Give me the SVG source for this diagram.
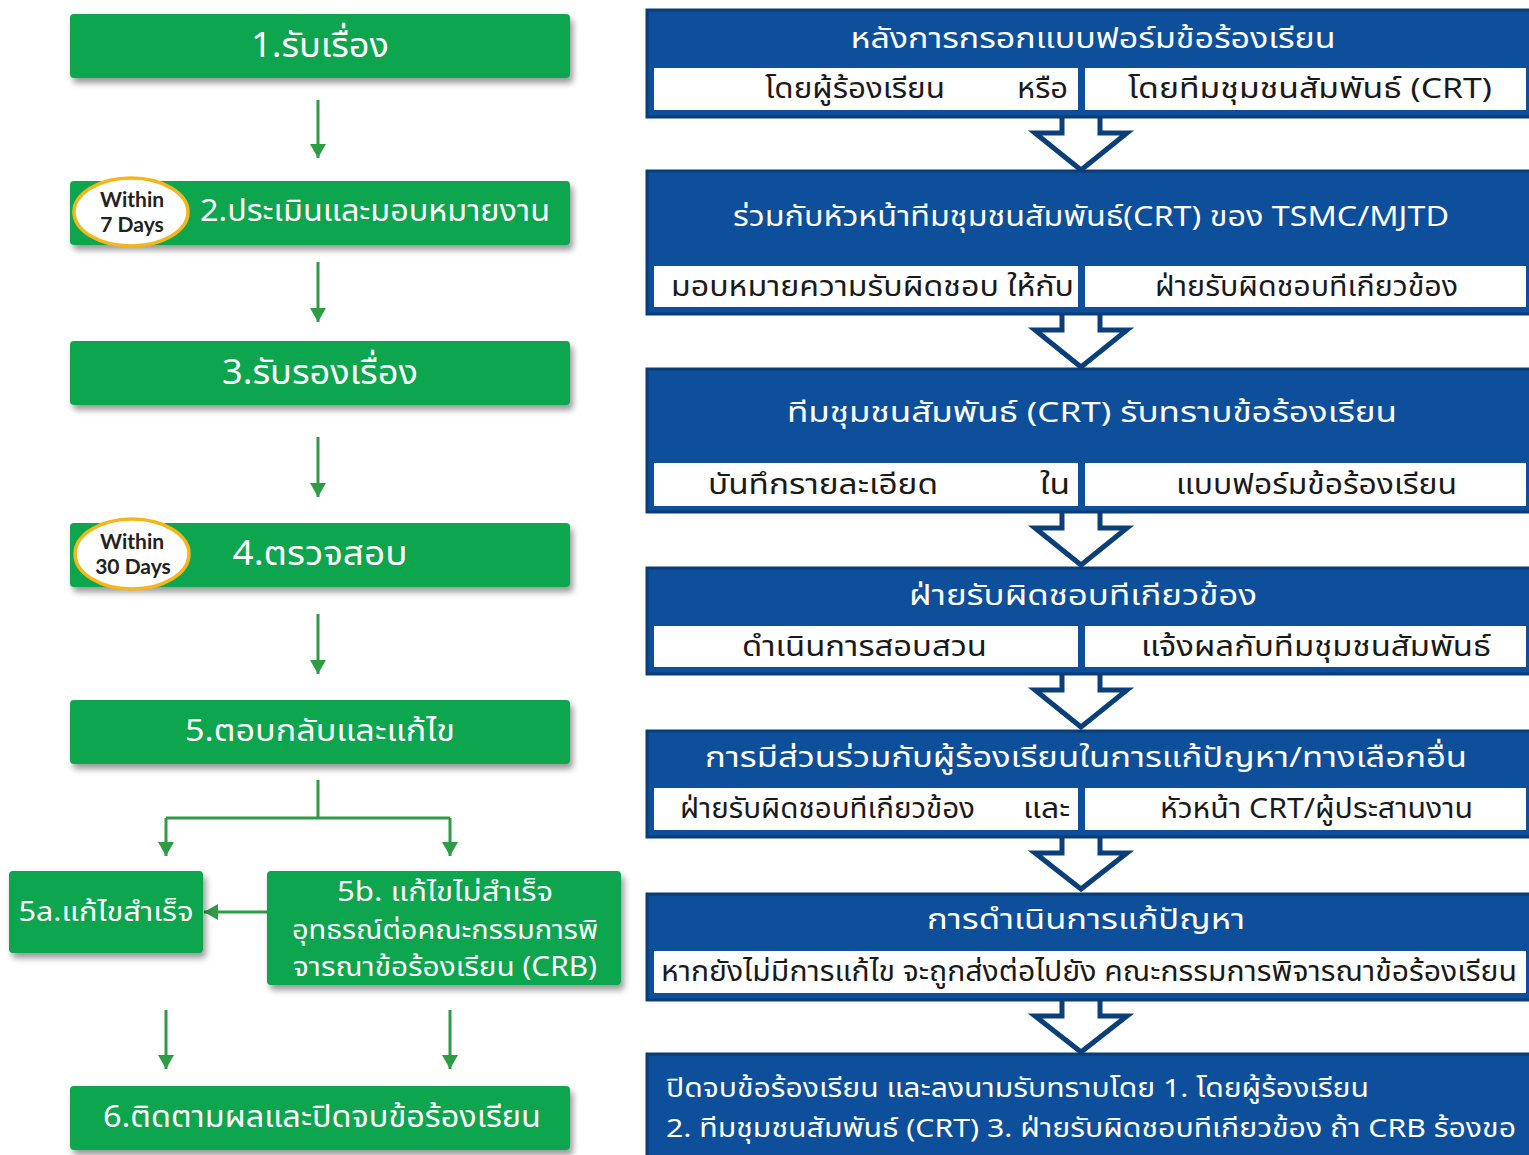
<svg xmlns="http://www.w3.org/2000/svg" width="1529" height="1155" viewBox="0 0 1529 1155">
<style>
.g{fill:#0BA54E}
.gt{fill:#fff;font-family:"Noto Sans Thai","Noto Sans",sans-serif;dominant-baseline:central;text-anchor:middle}
.conn{stroke:#2E9B45;stroke-width:3;fill:none}
.badge{fill:#fff;stroke:#F4B619;stroke-width:3.5}
.bt{font-family:Lato,"Open Sans",sans-serif;font-weight:bold;font-size:21px;fill:#222;text-anchor:middle}
.bb{fill:#0D4F9B;stroke:#0A3D75;stroke-width:3}
.wc{fill:#fff}
.ht{fill:#fff;font-family:"Noto Sans Thai","Noto Sans",sans-serif;font-size:28px;dominant-baseline:central;text-anchor:middle}
.st{fill:#1a1a1a;font-family:"Noto Sans Thai","Noto Sans",sans-serif;font-size:28px;dominant-baseline:central}
.ha{fill:#fff;stroke:#0B3F7A;stroke-width:5;stroke-linejoin:miter}
</style>
<defs>
<filter id="sh" x="-5%" y="-20%" width="115%" height="150%">
<feDropShadow dx="3" dy="5" stdDeviation="3" flood-color="#000" flood-opacity="0.4"/>
</filter>
<marker id="ah" markerUnits="userSpaceOnUse" markerWidth="20" markerHeight="16" viewBox="0 0 20 16" refX="18" refY="8" orient="auto">
<path d="M4,0 L18,8 L4,16 Z" fill="#2E9B45"/>
</marker>
</defs>
<rect width="1529" height="1155" fill="#fff"/>

<g id="connectors">
<line class="conn" x1="318" y1="100" x2="318" y2="158" marker-end="url(#ah)"/>
<line class="conn" x1="318" y1="262" x2="318" y2="322" marker-end="url(#ah)"/>
<line class="conn" x1="318" y1="437" x2="318" y2="497" marker-end="url(#ah)"/>
<line class="conn" x1="318" y1="614" x2="318" y2="674" marker-end="url(#ah)"/>
<path class="conn" d="M318,780 V818 M166,818 H450"/>
<line class="conn" x1="166" y1="818" x2="166" y2="856" marker-end="url(#ah)"/>
<line class="conn" x1="450" y1="818" x2="450" y2="856" marker-end="url(#ah)"/>
<line class="conn" x1="267" y1="912" x2="204" y2="912" marker-end="url(#ah)"/>
<line class="conn" x1="166" y1="1010" x2="166" y2="1069" marker-end="url(#ah)"/>
<line class="conn" x1="450" y1="1010" x2="450" y2="1069" marker-end="url(#ah)"/>
<path class="ha" d="M1062,115 V133 H1035 L1081,170 L1127,133 H1100 V115 Z"/>
<path class="ha" d="M1062,312 V330 H1035 L1081,367 L1127,330 H1100 V312 Z"/>
<path class="ha" d="M1062,510 V528 H1035 L1081,565 L1127,528 H1100 V510 Z"/>
<path class="ha" d="M1062,672 V690 H1035 L1081,727 L1127,690 H1100 V672 Z"/>
<path class="ha" d="M1062,835 V853 H1035 L1081,889 L1127,853 H1100 V835 Z"/>
<path class="ha" d="M1062,998 V1016 H1035 L1081,1052 L1127,1016 H1100 V998 Z"/>
</g>

<g id="step1"><rect class="g" x="70" y="14" width="500" height="64" rx="4" filter="url(#sh)"/>
<text class="gt" x="320" y="46" font-size="34" textLength="138" lengthAdjust="spacingAndGlyphs">1.รับเรื่อง</text></g>

<g id="step2"><rect class="g" x="70" y="181" width="500" height="64" rx="4" filter="url(#sh)"/>
<ellipse class="badge" cx="131" cy="212" rx="57" ry="34"/>
<text class="bt" x="132" y="207">Within</text><text class="bt" x="132" y="232">7 Days</text>
<text class="gt" x="375" y="212" font-size="30" textLength="350" lengthAdjust="spacingAndGlyphs">2.ประเมินและมอบหมายงาน</text></g>

<g id="step3"><rect class="g" x="70" y="341" width="500" height="64" rx="4" filter="url(#sh)"/>
<text class="gt" x="320" y="373" font-size="34" textLength="196" lengthAdjust="spacingAndGlyphs">3.รับรองเรื่อง</text></g>

<g id="step4"><rect class="g" x="70" y="523" width="500" height="64" rx="4" filter="url(#sh)"/>
<ellipse class="badge" cx="132" cy="554" rx="57" ry="35"/>
<text class="bt" x="132" y="549">Within</text><text class="bt" x="133" y="574">30 Days</text>
<text class="gt" x="320" y="554" font-size="34" textLength="175" lengthAdjust="spacingAndGlyphs">4.ตรวจสอบ</text></g>

<g id="step5"><rect class="g" x="70" y="700" width="500" height="64" rx="4" filter="url(#sh)"/>
<text class="gt" x="320" y="732" font-size="30" textLength="270" lengthAdjust="spacingAndGlyphs">5.ตอบกลับและแก้ไข</text></g>

<g id="step5a"><rect class="g" x="9" y="871" width="194" height="82" rx="4" filter="url(#sh)"/>
<text class="gt" x="106" y="912" font-size="27" textLength="175" lengthAdjust="spacingAndGlyphs">5a.แก้ไขสำเร็จ</text></g>

<g id="step5b"><rect class="g" x="267" y="871" width="354" height="114" rx="4" filter="url(#sh)"/>
<text class="gt" x="445" y="892" font-size="27" textLength="216" lengthAdjust="spacingAndGlyphs">5b. แก้ไขไม่สำเร็จ</text>
<text class="gt" x="445" y="930" font-size="27" textLength="306" lengthAdjust="spacingAndGlyphs">อุทธรณ์ต่อคณะกรรมการพิ</text>
<text class="gt" x="445" y="967" font-size="27" textLength="304" lengthAdjust="spacingAndGlyphs">จารณาข้อร้องเรียน (CRB)</text></g>

<g id="step6"><rect class="g" x="70" y="1086" width="500" height="64" rx="4" filter="url(#sh)"/>
<text class="gt" x="322" y="1118" font-size="30" textLength="438" lengthAdjust="spacingAndGlyphs">6.ติดตามผลและปิดจบข้อร้องเรียน</text></g>

<g id="r1"><rect class="bb" x="647" y="10" width="884" height="107"/>
<rect class="wc" x="654" y="68" width="424" height="42"/><rect class="wc" x="1085" y="68" width="441" height="42"/>
<text class="ht" x="1093" y="39" textLength="485" lengthAdjust="spacingAndGlyphs">หลังการกรอกแบบฟอร์มข้อร้องเรียน</text>
<text class="st" x="765" y="89" textLength="180" lengthAdjust="spacingAndGlyphs">โดยผู้ร้องเรียน</text>
<text class="st" x="1017" y="89" textLength="51" lengthAdjust="spacingAndGlyphs">หรือ</text>
<text class="st" x="1128" y="89" textLength="364" lengthAdjust="spacingAndGlyphs">โดยทีมชุมชนสัมพันธ์ (CRT)</text></g>

<g id="r2"><rect class="bb" x="647" y="171" width="884" height="143"/>
<rect class="wc" x="654" y="266" width="424" height="41"/><rect class="wc" x="1085" y="266" width="441" height="41"/>
<text class="ht" x="1091" y="217" textLength="716" lengthAdjust="spacingAndGlyphs">ร่วมกับหัวหน้าทีมชุมชนสัมพันธ์(CRT) ของ TSMC/MJTD</text>
<text class="st" x="671" y="287" textLength="403" lengthAdjust="spacingAndGlyphs">มอบหมายความรับผิดชอบ ให้กับ</text>
<text class="st" x="1155" y="287" textLength="303" lengthAdjust="spacingAndGlyphs">ฝ่ายรับผิดชอบทีเกียวข้อง</text></g>

<g id="r3"><rect class="bb" x="647" y="369" width="884" height="143"/>
<rect class="wc" x="654" y="463" width="424" height="43"/><rect class="wc" x="1085" y="463" width="441" height="43"/>
<text class="ht" x="1092" y="413" textLength="610" lengthAdjust="spacingAndGlyphs">ทีมชุมชนสัมพันธ์ (CRT) รับทราบข้อร้องเรียน</text>
<text class="st" x="708" y="485" textLength="230" lengthAdjust="spacingAndGlyphs">บันทึกรายละเอียด</text>
<text class="st" x="1040" y="485" textLength="30" lengthAdjust="spacingAndGlyphs">ใน</text>
<text class="st" x="1176" y="485" textLength="281" lengthAdjust="spacingAndGlyphs">แบบฟอร์มข้อร้องเรียน</text></g>

<g id="r4"><rect class="bb" x="647" y="568" width="884" height="106"/>
<rect class="wc" x="654" y="626" width="424" height="41"/><rect class="wc" x="1085" y="626" width="441" height="41"/>
<text class="ht" x="1083" y="596" textLength="348" lengthAdjust="spacingAndGlyphs">ฝ่ายรับผิดชอบทีเกียวข้อง</text>
<text class="st" x="742" y="647" textLength="245" lengthAdjust="spacingAndGlyphs">ดำเนินการสอบสวน</text>
<text class="st" x="1141" y="647" textLength="350" lengthAdjust="spacingAndGlyphs">แจ้งผลกับทีมชุมชนสัมพันธ์</text></g>

<g id="r5"><rect class="bb" x="647" y="731" width="884" height="106"/>
<rect class="wc" x="654" y="788" width="424" height="42"/><rect class="wc" x="1085" y="788" width="441" height="42"/>
<text class="ht" x="1086" y="758" textLength="762" lengthAdjust="spacingAndGlyphs">การมีส่วนร่วมกับผู้ร้องเรียนในการแก้ปัญหา/ทางเลือกอื่น</text>
<text class="st" x="680" y="809" textLength="295" lengthAdjust="spacingAndGlyphs">ฝ่ายรับผิดชอบทีเกียวข้อง</text>
<text class="st" x="1023" y="809" textLength="47" lengthAdjust="spacingAndGlyphs">และ</text>
<text class="st" x="1160" y="809" textLength="313" lengthAdjust="spacingAndGlyphs">หัวหน้า CRT/ผู้ประสานงาน</text></g>

<g id="r6"><rect class="bb" x="647" y="894" width="884" height="106"/>
<rect class="wc" x="654" y="951" width="872" height="42"/>
<text class="ht" x="1086" y="920" textLength="318" lengthAdjust="spacingAndGlyphs">การดำเนินการแก้ปัญหา</text>
<text class="st" x="661" y="972" textLength="856" lengthAdjust="spacingAndGlyphs">หากยังไม่มีการแก้ไข จะถูกส่งต่อไปยัง คณะกรรมการพิจารณาข้อร้องเรียน</text></g>

<g id="r7"><rect class="bb" x="647" y="1054" width="884" height="110"/>
<text class="ht" style="text-anchor:start;font-size:26px" x="666" y="1089" textLength="703" lengthAdjust="spacingAndGlyphs">ปิดจบข้อร้องเรียน และลงนามรับทราบโดย 1. โดยผู้ร้องเรียน</text>
<text class="ht" style="text-anchor:start;font-size:26px" x="666" y="1129" textLength="850" lengthAdjust="spacingAndGlyphs">2. ทีมชุมชนสัมพันธ์ (CRT) 3. ฝ่ายรับผิดชอบทีเกียวข้อง ถ้า CRB ร้องขอ</text></g>
</svg>
